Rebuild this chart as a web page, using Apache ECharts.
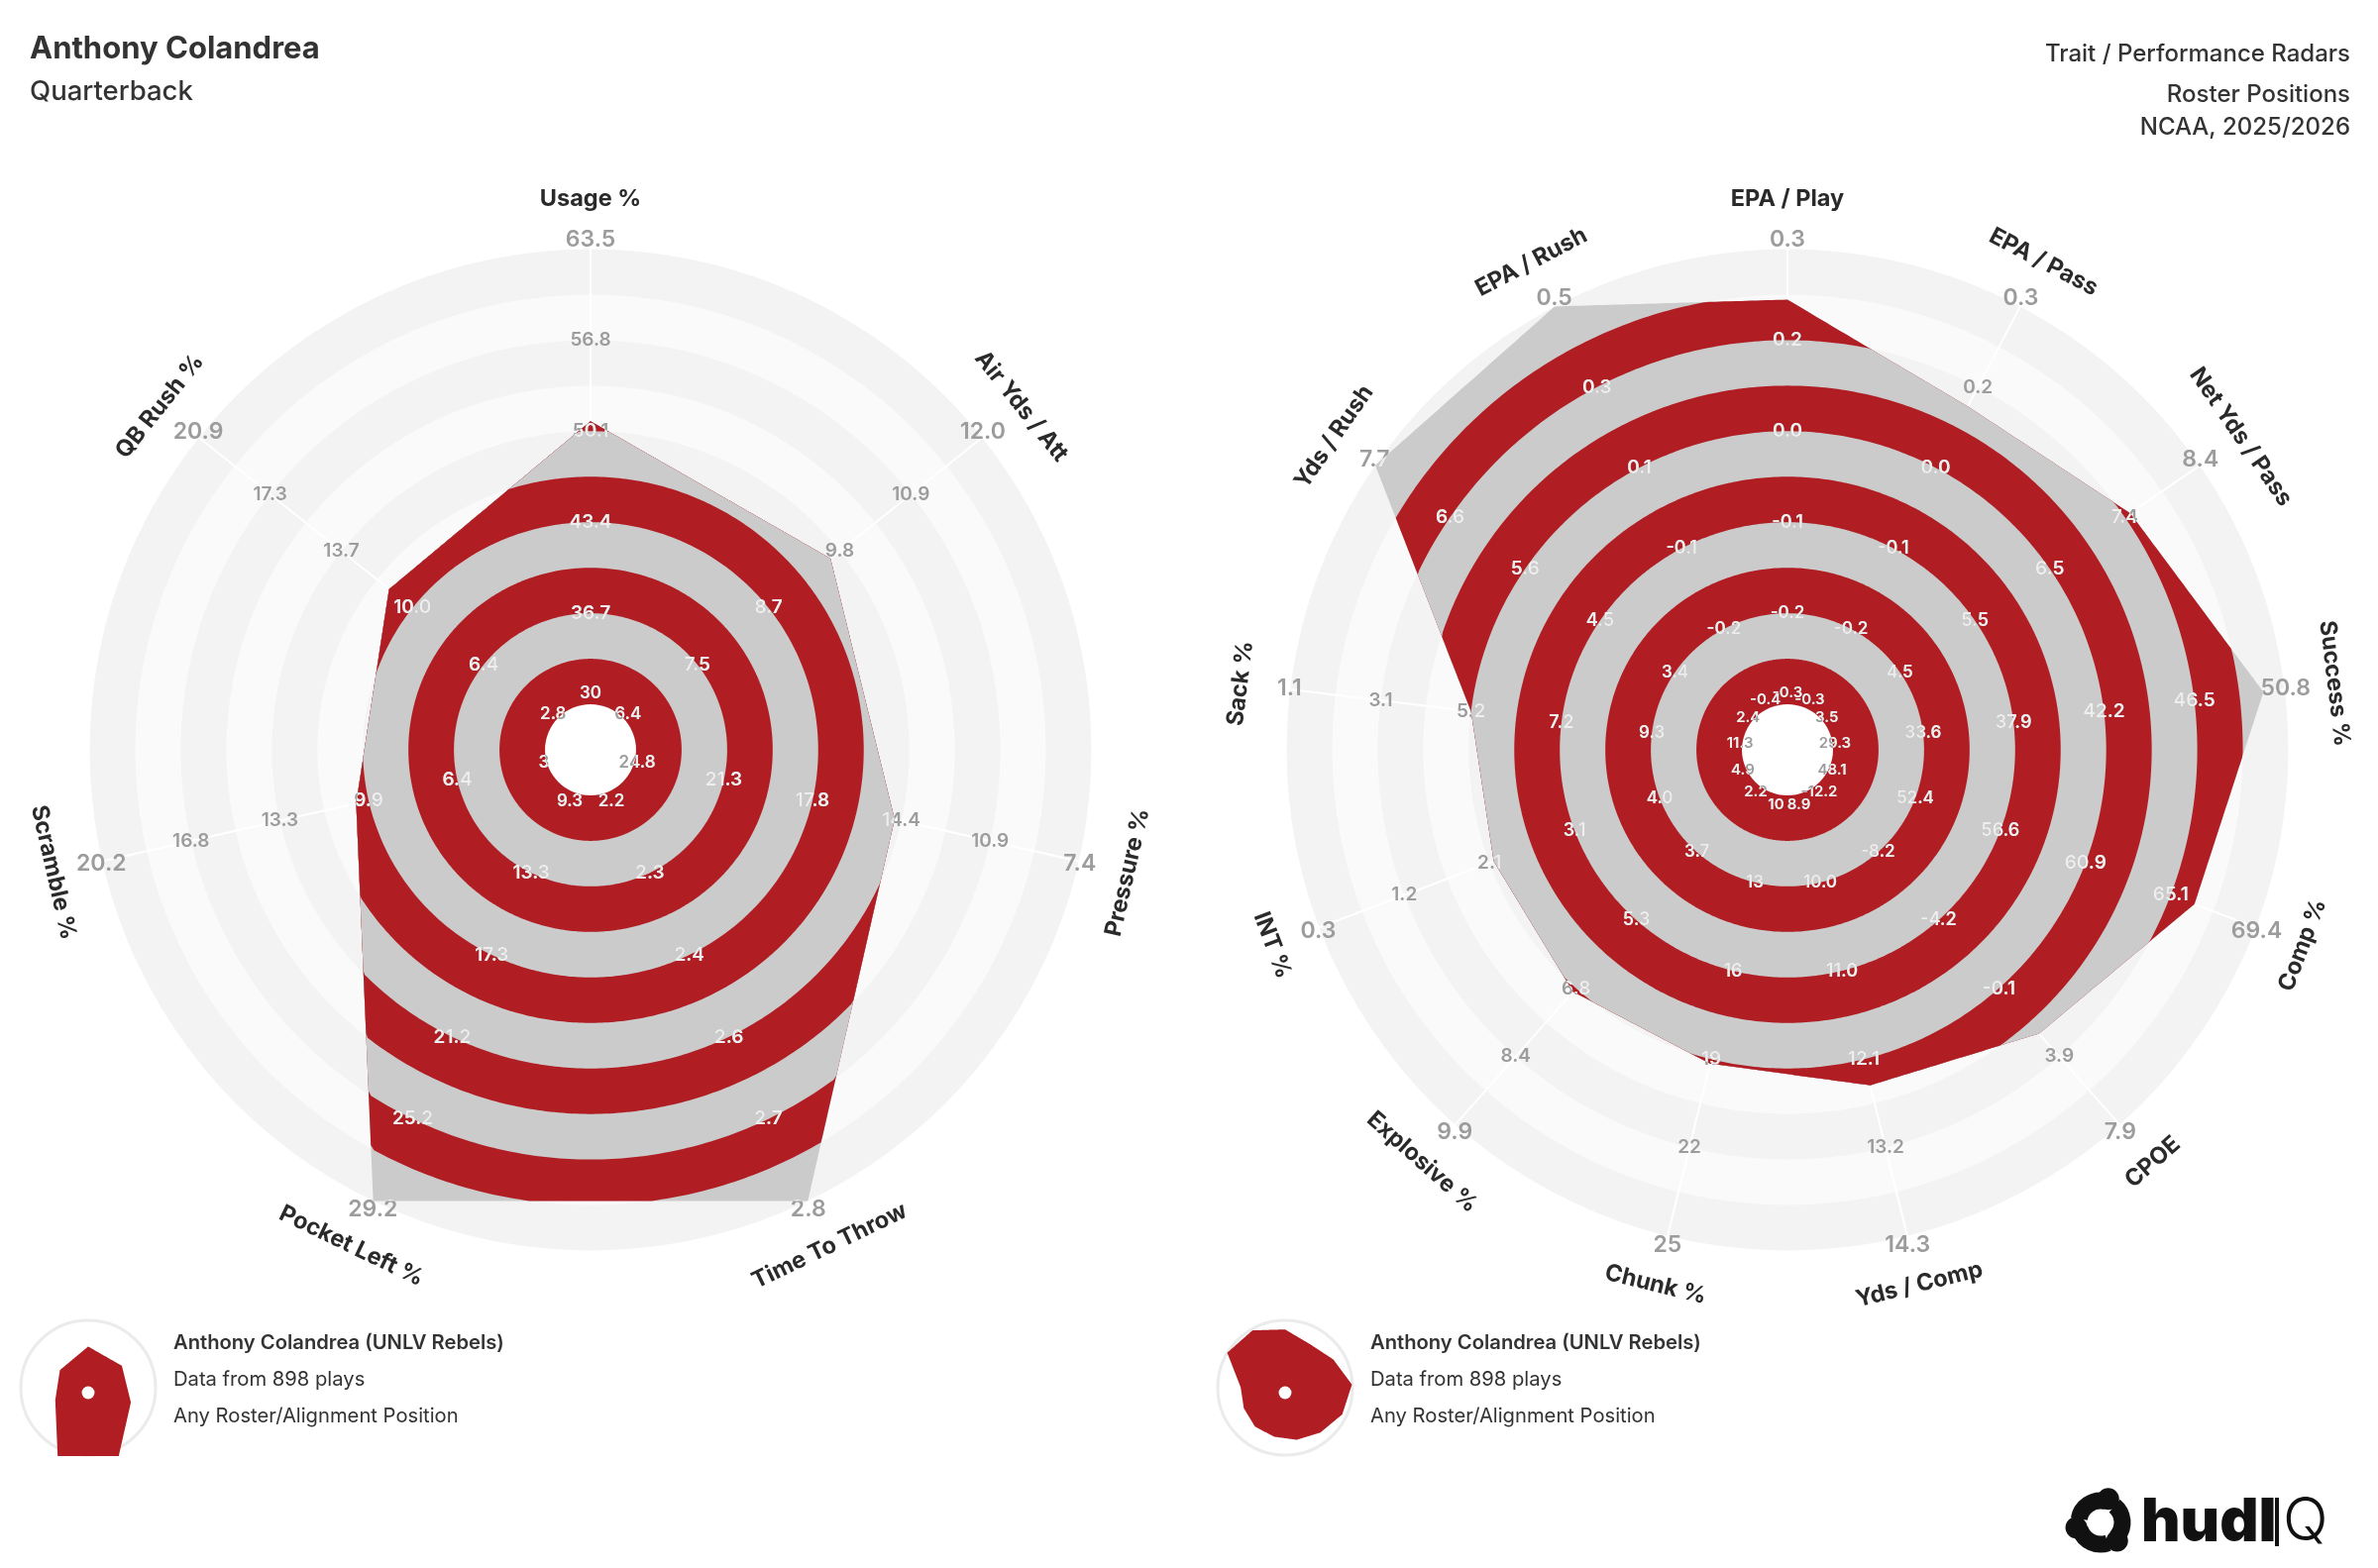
<!DOCTYPE html>
<html><head><meta charset="utf-8">
<script src="https://cdn.jsdelivr.net/npm/echarts@6/dist/echarts.min.js"></script>
<style>html,body{margin:0;padding:0;background:#fff}#c{width:2400px;height:1583px}</style>
</head><body><div id="c"></div>
<script>
// ---------- data ----------
const leftAxes = ['Usage %','Air Yds / Att','Pressure %','Time To Throw','Pocket Left %','Scramble %','QB Rush %'];
const leftTicks = [
  ['30','36.7','43.4','50.1','56.8','63.5'],
  ['6.4','7.5','8.7','9.8','10.9','12.0'],
  ['24.8','21.3','17.8','14.4','10.9','7.4'],
  ['2.2','2.3','2.4','2.6','2.7','2.8'],
  ['9.3','13.3','17.3','21.2','25.2','29.2'],
  ['3','6.4','9.9','13.3','16.8','20.2'],
  ['2.8','6.4','10.0','13.7','17.3','20.9']
];
// percentile of the player on each axis (0 = inner ring, 100 = outer ring)
const leftPct = [62.2, 57.4, 58.5, 100, 100, 42.8, 46.6];

const rightAxes = ['EPA / Play','EPA / Pass','Net Yds / Pass','Success %','Comp %','CPOE','Yds / Comp','Chunk %','Explosive %','INT %','Sack %','Yds / Rush','EPA / Rush'];
const rightTicks = [
  ['-0.3','-0.2','-0.1','0.0','0.2','0.3'],
  ['-0.3','-0.2','-0.1','0.0','0.2','0.3'],
  ['3.5','4.5','5.5','6.5','7.4','8.4'],
  ['29.3','33.6','37.9','42.2','46.5','50.8'],
  ['48.1','52.4','56.6','60.9','65.1','69.4'],
  ['-12.2','-8.2','-4.2','-0.1','3.9','7.9'],
  ['8.9','10.0','11.0','12.1','13.2','14.3'],
  ['10','13','16','19','22','25'],
  ['2.2','3.7','5.3','6.8','8.4','9.9'],
  ['4.9','4.0','3.1','2.1','1.2','0.3'],
  ['11.3','9.3','7.2','5.2','3.1','1.1'],
  ['2.4','3.4','4.5','5.6','6.6','7.7'],
  ['-0.4','-0.2','-0.1','0.1','0.3','0.5']
];
const rightPct = [88.9, 75.2, 81.5, 95.3, 85.6, 73.3, 65.9, 61, 61, 59, 60, 100, 100];

const playerName = 'Anthony Colandrea';
const position = 'Quarterback';
const headerRight = ['Trait / Performance Radars', 'Roster Positions', 'NCAA, 2025/2026'];
const legendLines = ['Anthony Colandrea (UNLV Rebels)', 'Data from 898 plays', 'Any Roster/Alignment Position'];

// ---------- style ----------
const RMIN = -10, RMAX = 100;
const RED = '#b01e24', BAND_GRAY = '#cbcbcb', BG_DARK = '#f3f3f3', BG_LIGHT = '#fafafa';
const TICK_GRAY = '#9c9c9c', TICK_WHITE = '#eeeeee', NAME_COLOR = '#2a2a2a', TEXT = '#333333';
const FONT = 'Inter, "Noto Sans", sans-serif';

function geom(api, n, pct) {
  const c = api.coord([RMIN, 0]);
  const px = v => { const p = api.coord([v, 0]); return Math.hypot(p[0]-c[0], p[1]-c[1]); };
  const R = px(RMAX);
  const dir = a => { const p = api.coord([RMAX, a]); return [(p[0]-c[0])/R, (p[1]-c[1])/R]; };
  const step = 360 / n;
  const angles = [];
  for (let i = 0; i < n; i++) angles.push(i * step);
  const verts = pct.map((v, i) => api.coord([Math.max(0, Math.min(100, v)), angles[i]]));
  const samples = [];
  const S = Math.max(30, Math.round(step * 1.5));
  for (let i = 0; i < n; i++) {
    const P = verts[i], Q = verts[(i + 1) % n];
    const e = [Q[0]-P[0], Q[1]-P[1]];
    const w = [P[0]-c[0], P[1]-c[1]];
    for (let j = 0; j < S; j++) {
      const a = angles[i] + step * j / S;
      const d = dir(a);
      const den = d[0]*e[1] - d[1]*e[0];
      const t = Math.abs(den) < 1e-9 ? Math.hypot(w[0], w[1]) : (w[0]*e[1] - w[1]*e[0]) / den;
      samples.push({a, d, rho: t});
    }
  }
  return {c, px, R, dir, angles, verts, samples};
}

function mainRender(axes, ticks, pct, tickSizes) {
  return function (params, api) {
    const n = axes.length;
    const g = geom(api, n, pct);
    const c = g.c, R = g.R;
    const kids = [];
    // background rings
    for (let k = 10; k >= 0; k--) {
      kids.push({type: 'circle', shape: {cx: c[0], cy: c[1], r: g.px(k * 10)},
        style: {fill: k % 2 === 0 ? BG_DARK : BG_LIGHT}});
    }
    // spokes
    g.angles.forEach(a => {
      const p = api.coord([RMAX, a]);
      kids.push({type: 'line', shape: {x1: c[0], y1: c[1], x2: p[0], y2: p[1]},
        style: {stroke: '#ffffff', lineWidth: 2}});
    });
    // striped polygon: polygon ∩ disk(k), outer first
    for (let k = 10; k >= 1; k--) {
      const Rk = g.px(k * 10);
      const pts = g.samples.map(s => {
        const r = Math.min(s.rho, Rk);
        return [c[0] + s.d[0] * r, c[1] + s.d[1] * r];
      });
      kids.push({type: 'polygon', shape: {points: pts}, style: {fill: k % 2 === 1 ? RED : BAND_GRAY}});
    }
    // hole
    const rHole = g.px(0);
    kids.push({type: 'circle', shape: {cx: c[0], cy: c[1], r: rHole}, style: {fill: '#ffffff'}});
    // tick labels
    const unit = R / (RMAX - RMIN);
    const gray = [], white = [];
    for (let i = 0; i < n; i++) {
      const a = g.angles[i], d = g.dir(a);
      for (let k = 0; k < 6; k++) {
        let r, oy = 0;
        if (k === 0) { r = g.px(0) + 0.5 * unit; oy = 9 * d[1]; }
        else if (k === 5) { r = g.px(100) + 0.2 * unit; oy = 9 * d[1]; }
        else r = g.px(k * 20);
        const x = c[0] + d[0] * r, y = c[1] + d[1] * r + oy;
        const base = {text: ticks[i][k], fontSize: tickSizes[k], fontFamily: FONT, fontWeight: 600,
          align: 'center', verticalAlign: 'middle', textAlign: 'center', textVerticalAlign: 'middle'};
        gray.push({type: 'text', x: x, y: y, style: Object.assign({fill: TICK_GRAY}, base)});
        white.push({type: 'text', x: x, y: y, style: Object.assign({fill: TICK_WHITE}, base)});
      }
    }
    kids.push({type: 'group', children: gray});
    // clip region: polygon minus hole
    const clipPts = g.samples.map(s => [c[0] + s.d[0] * s.rho, c[1] + s.d[1] * s.rho]);
    clipPts.push(clipPts[0].slice());
    for (let j = 0; j <= 120; j++) {
      const a = 360 - 3 * j;
      const d = g.dir(a);
      clipPts.push([c[0] + d[0] * rHole, c[1] + d[1] * rHole]);
    }
    kids.push({type: 'group', clipPath: {type: 'polygon', shape: {points: clipPts}}, children: white});
    // axis names
    for (let i = 0; i < n; i++) {
      const a = g.angles[i], d = g.dir(a);
      const r = R * 1.1;
      const rotDeg = (a <= 90 || a >= 270) ? -a : 180 - a;
      kids.push({type: 'text', x: c[0] + d[0] * r, y: c[1] + d[1] * r, rotation: rotDeg * Math.PI / 180,
        style: {text: axes[i], fill: NAME_COLOR, fontSize: 23.5, fontFamily: FONT, fontWeight: 700,
          align: 'center', verticalAlign: 'middle', textAlign: 'center', textVerticalAlign: 'middle'}});
    }
    return {type: 'group', children: kids};
  };
}

function miniRender(axes, pct) {
  return function (params, api) {
    const g = geom(api, axes.length, pct);
    const c = g.c;
    const pts = g.samples.map(s => [c[0] + s.d[0] * s.rho, c[1] + s.d[1] * s.rho]);
    return {type: 'group', children: [
      {type: 'polygon', shape: {points: pts}, style: {fill: RED}},
      {type: 'circle', shape: {cx: c[0], cy: c[1], r: g.px(0)}, style: {fill: '#ffffff'}}
    ]};
  };
}

const polarDefs = [
  {center: [596, 757], radius: 505.5},
  {center: [1804, 757], radius: 505.5},
  {center: [89, 1406], radius: 71},
  {center: [1297, 1406], radius: 71}
];

function legendText(x, y, text, weight) {
  return {type: 'text', x: x, y: y, z: 5, style: {text: text, fill: TEXT, fontSize: 20.2, fontWeight: weight,
    fontFamily: FONT, textAlign: 'left', textVerticalAlign: 'middle'}};
}
function logoArc(s, e) {
  return {type: 'arc', z: 5, shape: {cx: 2120, cy: 1537, r: 22, startAngle: s * Math.PI / 180, endAngle: e * Math.PI / 180, clockwise: true},
    style: {stroke: '#111111', lineWidth: 17, fill: null, lineCap: 'butt'}};
}
function logoBlob(angDeg, rr) {
  const a = angDeg * Math.PI / 180;
  return {type: 'circle', z: 5, shape: {cx: 2120 + 25 * Math.cos(a), cy: 1537 + 25 * Math.sin(a), r: rr}, style: {fill: '#111111'}};
}

const option = {
  backgroundColor: '#ffffff',
  animation: false,
  polar: polarDefs,
  angleAxis: polarDefs.map((p, i) => ({polarIndex: i, type: 'value', min: 0, max: 360, startAngle: 90,
    clockwise: true, show: false, axisLine: {show: false}, splitLine: {show: false}, axisTick: {show: false}, axisLabel: {show: false}})),
  radiusAxis: polarDefs.map((p, i) => ({polarIndex: i, type: 'value', min: RMIN, max: RMAX, show: false,
    axisLine: {show: false}, splitLine: {show: false}, axisTick: {show: false}, axisLabel: {show: false}})),
  series: [
    {type: 'custom', coordinateSystem: 'polar', polarIndex: 0, silent: true, z: 2, data: [[0, 0]],
      renderItem: mainRender(leftAxes, leftTicks, leftPct, [17, 19, 19, 19, 19, 23])},
    {type: 'custom', coordinateSystem: 'polar', polarIndex: 1, silent: true, z: 2, data: [[0, 0]],
      renderItem: mainRender(rightAxes, rightTicks, rightPct, [15, 17, 18, 19, 19, 23])},
    {type: 'custom', coordinateSystem: 'polar', polarIndex: 2, silent: true, z: 2, data: [[0, 0]],
      renderItem: miniRender(leftAxes, leftPct)},
    {type: 'custom', coordinateSystem: 'polar', polarIndex: 3, silent: true, z: 2, data: [[0, 0]],
      renderItem: miniRender(rightAxes, rightPct)}
  ],
  graphic: {elements: [
    {type: 'text', x: 30, y: 50, z: 5, style: {text: playerName, fill: TEXT, fontSize: 31, fontWeight: 700, fontFamily: FONT, textAlign: 'left', textVerticalAlign: 'middle'}},
    {type: 'text', x: 30, y: 93, z: 5, style: {text: position, fill: TEXT, fontSize: 27.5, fontWeight: 500, fontFamily: FONT, textAlign: 'left', textVerticalAlign: 'middle'}},
    {type: 'text', x: 2372, y: 55, z: 5, style: {text: headerRight[0], fill: TEXT, fontSize: 24, fontWeight: 500, fontFamily: FONT, textAlign: 'right', textVerticalAlign: 'middle'}},
    {type: 'text', x: 2372, y: 96, z: 5, style: {text: headerRight[1], fill: TEXT, fontSize: 24, fontWeight: 500, fontFamily: FONT, textAlign: 'right', textVerticalAlign: 'middle'}},
    {type: 'text', x: 2372, y: 129, z: 5, style: {text: headerRight[2], fill: TEXT, fontSize: 24, fontWeight: 500, fontFamily: FONT, textAlign: 'right', textVerticalAlign: 'middle'}},
    // legend circles
    {type: 'circle', z: 0, shape: {cx: 89, cy: 1401, r: 68}, style: {fill: '#ffffff', stroke: '#ebebeb', lineWidth: 3}},
    {type: 'circle', z: 0, shape: {cx: 1297, cy: 1401, r: 68}, style: {fill: '#ffffff', stroke: '#ebebeb', lineWidth: 3}},
    // legend texts
    legendText(175, 1356, legendLines[0], 600),
    legendText(175, 1393, legendLines[1], 400),
    legendText(175, 1430, legendLines[2], 400),
    legendText(1383, 1356, legendLines[0], 600),
    legendText(1383, 1393, legendLines[1], 400),
    legendText(1383, 1430, legendLines[2], 400),
    // logo
    logoArc(-170, -75), logoArc(-50, 45), logoArc(70, 165),
    logoBlob(-72, 11), logoBlob(48, 11), logoBlob(168, 11),
    {type: 'text', x: 2161, y: 1538, z: 5, style: {text: 'hudl', fill: '#111111', fontSize: 61, fontWeight: 900, fontFamily: FONT, textAlign: 'left', textVerticalAlign: 'middle'}},
    {type: 'rect', z: 5, shape: {x: 2296, y: 1512, width: 4, height: 49}, style: {fill: '#111111'}},
    {type: 'text', x: 2304, y: 1537, z: 5, style: {text: 'Q', fill: '#111111', fontSize: 60, fontWeight: 300, fontFamily: FONT, textAlign: 'left', textVerticalAlign: 'middle'}}
  ]}
};

const chart = echarts.init(document.getElementById('c'), null, {renderer: 'canvas'});
chart.setOption(option);
</script>
</body></html>
